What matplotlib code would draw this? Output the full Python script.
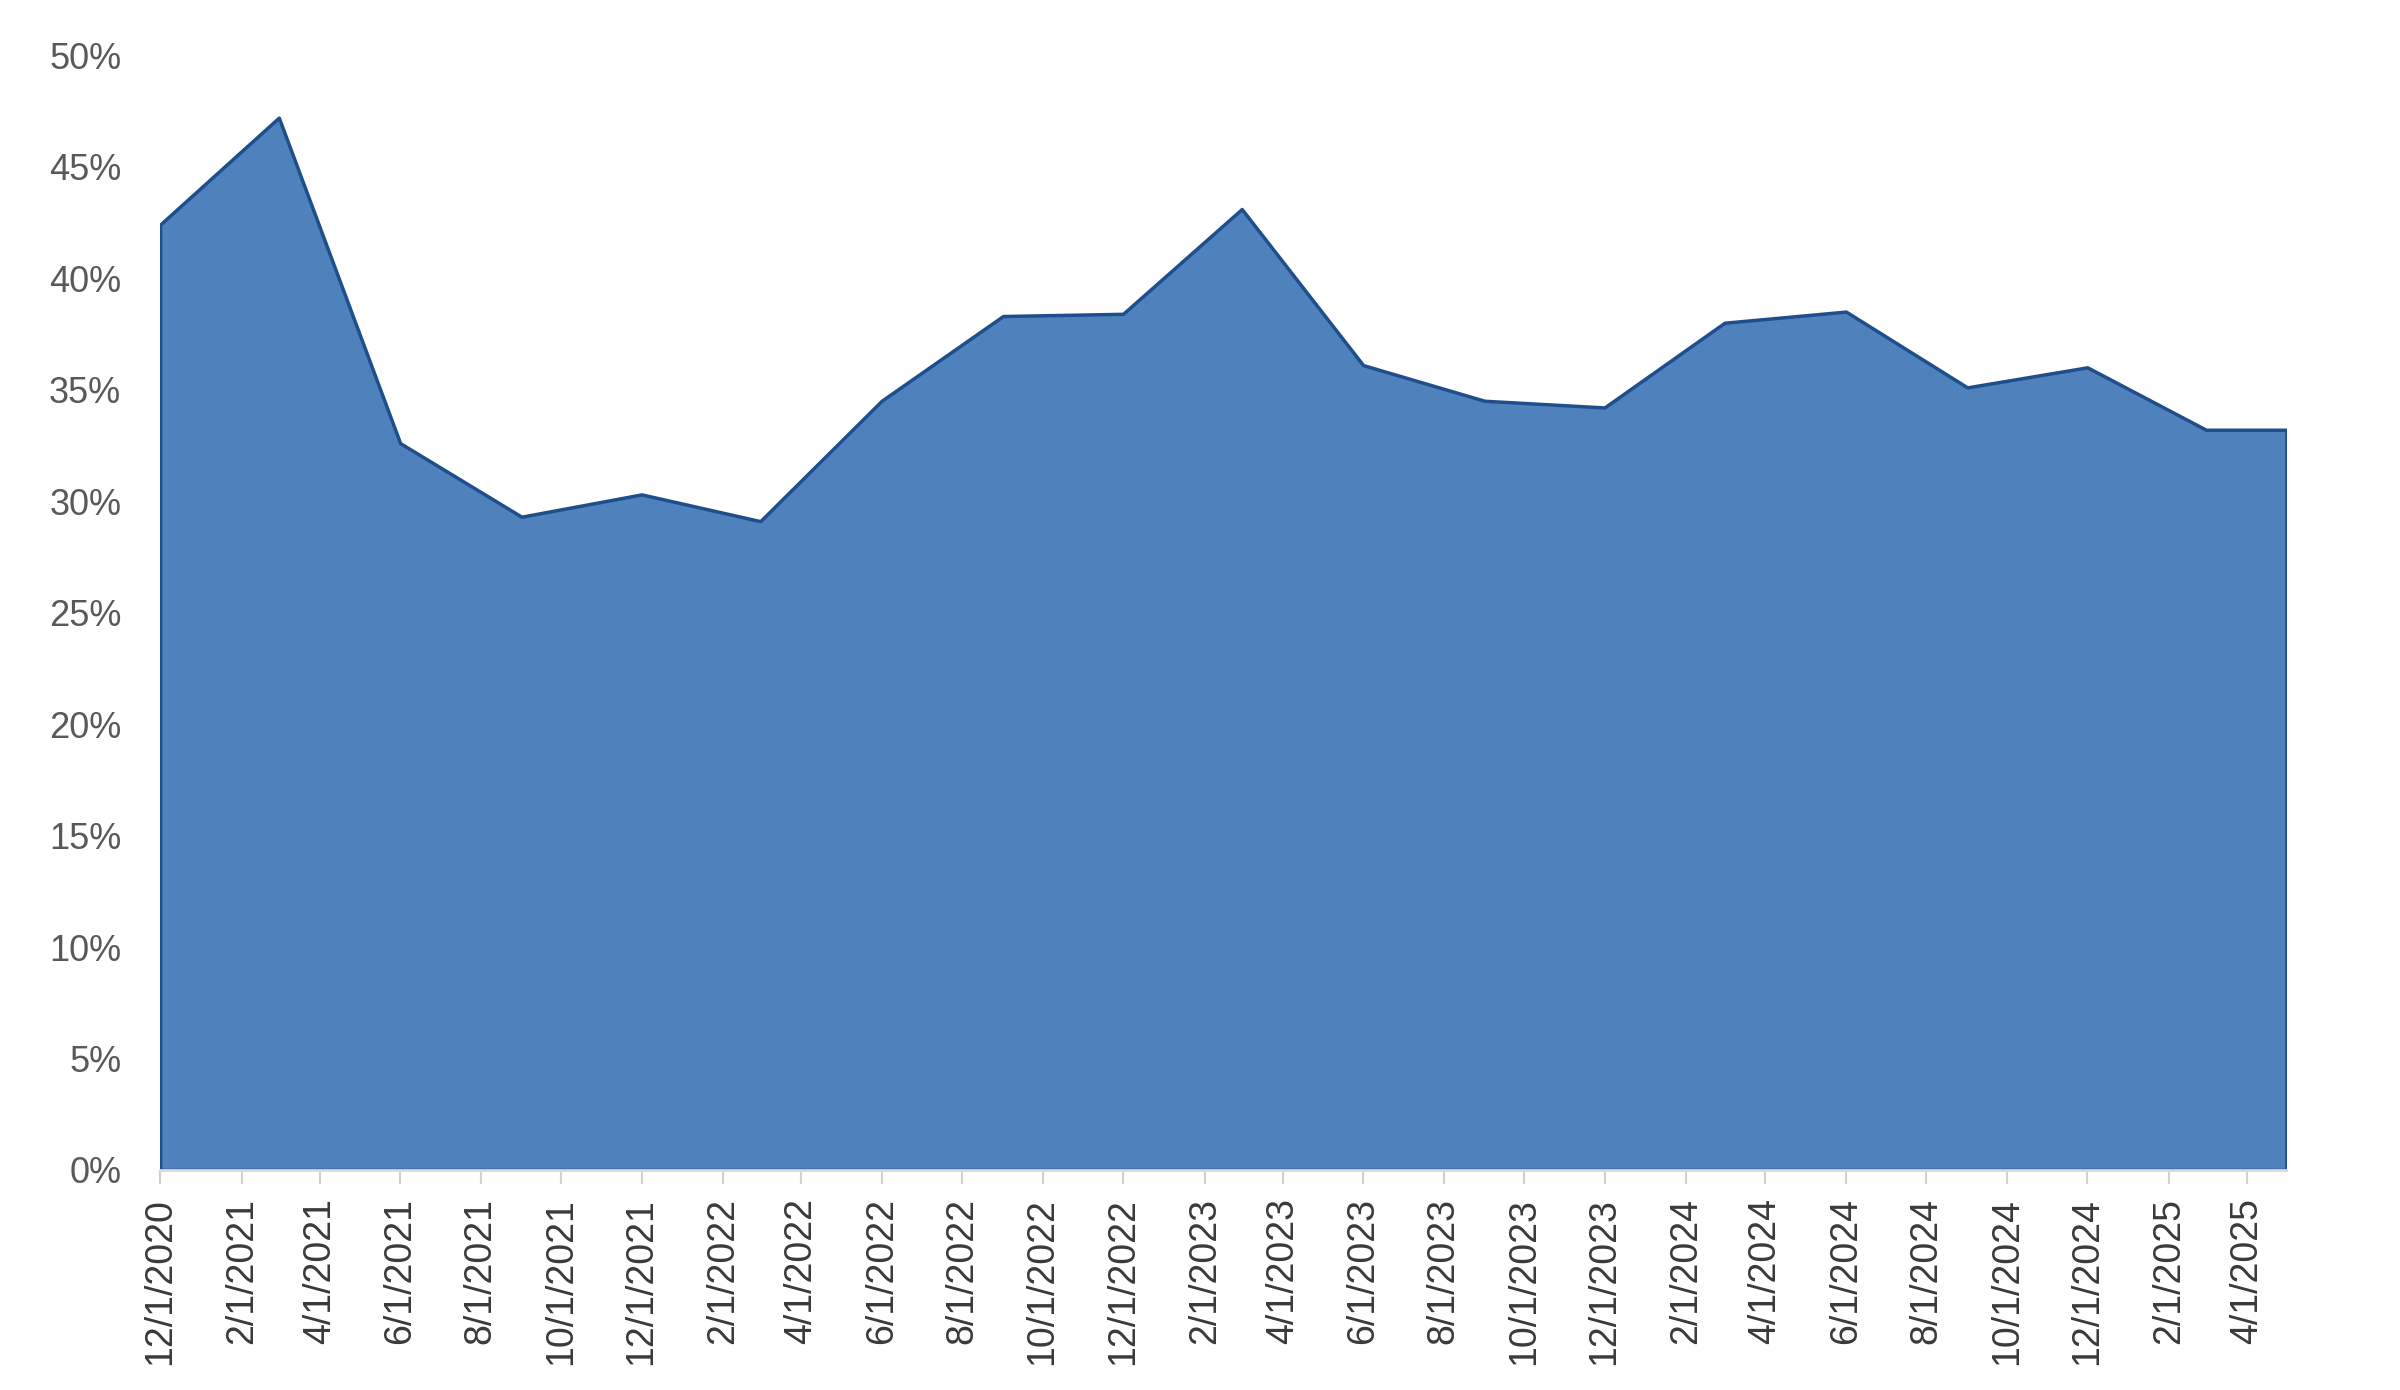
import matplotlib.pyplot as plt
import pandas as pd

# quarterly readings, last point is May 2025
dates = ['2020-12-01', '2021-03-01', '2021-06-01', '2021-09-01', '2021-12-01',
         '2022-03-01', '2022-06-01', '2022-09-01', '2022-12-01', '2023-03-01',
         '2023-06-01', '2023-09-01', '2023-12-01', '2024-03-01', '2024-06-01',
         '2024-09-01', '2024-12-01', '2025-03-01', '2025-05-01']
values = [42.4, 47.2, 32.6, 29.3, 30.3,
          29.1, 34.5, 38.3, 38.4, 43.1,
          36.1, 34.5, 34.2, 38.0, 38.5,
          35.1, 36.0, 33.2, 33.2]
y_ticks = [0, 5, 10, 15, 20, 25, 30, 35, 40, 45, 50]

x = pd.to_datetime(dates)
tick_dates = pd.date_range('2020-12-01', '2025-04-01', freq='2MS')

plt.rcParams['font.family'] = ['Liberation Sans', 'DejaVu Sans']

fig = plt.figure(figsize=(24, 13.9), dpi=100)
ax = fig.add_axes([0.0667, 0.1583, 0.886, 0.802])

ax.fill_between(x, values, 0, facecolor='#4f81bd', edgecolor='#1f4e8c', linewidth=2.5)

ax.set_xlim(x[0], x[-1])
ax.set_ylim(0, 50)
ax.set_yticks(y_ticks)
ax.set_yticklabels([f'{v}%' for v in y_ticks])
ax.tick_params(axis='y', length=0, pad=28, labelsize=26, labelcolor='#595959')

ax.set_xticks(tick_dates)
ax.set_xticklabels([f'{d.month}/{d.day}/{d.year}' for d in tick_dates], rotation=90)
ax.tick_params(axis='x', length=10, width=1.5, color='#d0d0d0', pad=10,
               labelsize=27, labelcolor='#3a3a3a')

for side in ['top', 'right', 'left']:
    ax.spines[side].set_visible(False)
ax.spines['bottom'].set_color('#d9d9d9')
ax.spines['bottom'].set_linewidth(2)

fig.savefig('out.png', dpi=100, facecolor='white')
